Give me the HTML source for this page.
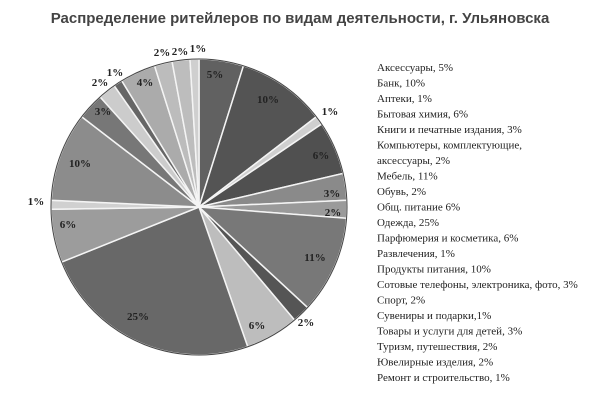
<!DOCTYPE html>
<html><head><meta charset="utf-8"><style>
body{margin:0;background:#fff;width:600px;height:400px;overflow:hidden}
.t{font-family:"Liberation Sans",sans-serif;font-weight:bold;font-size:15px;fill:#444}
.l{font-family:"Liberation Serif",serif;font-size:11px;fill:#222}
.p{font-family:"Liberation Serif",serif;font-size:11px;font-weight:bold;fill:#222;text-anchor:middle;dominant-baseline:central}
</style></head><body>
<svg id="s" width="600" height="400" xmlns="http://www.w3.org/2000/svg">
<text class="t" x="300" y="23" text-anchor="middle">Распределение ритейлеров по видам деятельности, г. Ульяновска</text>
<g id="pie"></g>
<g>
<text class="p" x="215" y="75">5%</text>
<text class="p" x="268" y="100">10%</text>
<text class="p" x="330" y="112">1%</text>
<text class="p" x="321" y="156">6%</text>
<text class="p" x="332" y="194">3%</text>
<text class="p" x="333" y="213">2%</text>
<text class="p" x="315" y="258">11%</text>
<text class="p" x="306" y="323">2%</text>
<text class="p" x="257" y="326">6%</text>
<text class="p" x="138" y="317">25%</text>
<text class="p" x="68" y="225">6%</text>
<text class="p" x="36" y="202">1%</text>
<text class="p" x="80" y="164">10%</text>
<text class="p" x="103" y="112">3%</text>
<text class="p" x="100" y="83">2%</text>
<text class="p" x="115" y="73">1%</text>
<text class="p" x="145" y="83">4%</text>
<text class="p" x="162" y="53">2%</text>
<text class="p" x="180" y="52">2%</text>
<text class="p" x="198" y="49">1%</text>
</g>
<g class="l">
<text x="377" y="71">Аксессуары, 5%</text>
<text x="377" y="86.5">Банк, 10%</text>
<text x="377" y="102">Аптеки, 1%</text>
<text x="377" y="117.5">Бытовая химия, 6%</text>
<text x="377" y="133">Книги и печатные издания, 3%</text>
<text x="377" y="148.5">Компьютеры, комплектующие,</text>
<text x="377" y="164">аксессуары, 2%</text>
<text x="377" y="179.5">Мебель, 11%</text>
<text x="377" y="195">Обувь, 2%</text>
<text x="377" y="210.5">Общ. питание 6%</text>
<text x="377" y="226">Одежда, 25%</text>
<text x="377" y="241.5">Парфюмерия и косметика, 6%</text>
<text x="377" y="257">Развлечения, 1%</text>
<text x="377" y="272.5">Продукты питания, 10%</text>
<text x="377" y="288">Сотовые телефоны, электроника, фото, 3%</text>
<text x="377" y="303.5">Спорт, 2%</text>
<text x="377" y="319">Сувениры и подарки,1%</text>
<text x="377" y="334.5">Товары и услуги для детей, 3%</text>
<text x="377" y="350">Туризм, путешествия, 2%</text>
<text x="377" y="365.5">Ювелирные изделия, 2%</text>
<text x="377" y="381">Ремонт и строительство, 1%</text>
</g>
</svg>
<script>
var v=[5,10,1,6,3,2,11,2,6,25,6,1,10,3,2,1,4,2,2,1];
var c=['#616161','#545454','#cfcfcf','#505050','#8a8a8a','#9a9a9a','#787878','#555555','#bdbdbd','#686868','#9c9c9c','#d0d0d0','#8c8c8c','#777777','#cccccc','#666666','#ababab','#bcbcbc','#bdbdbd','#cfcfcf'];
var tot=v.reduce(function(a,b){return a+b},0),cx=199,cy=207,r=148,a=0,g=document.getElementById('pie'),h='';
for(var i=0;i<v.length;i++){var a2=a+v[i]/tot*2*Math.PI;
var x1=cx+r*Math.sin(a),y1=cy-r*Math.cos(a),x2=cx+r*Math.sin(a2),y2=cy-r*Math.cos(a2);
h+='<path d="M'+cx+','+cy+'L'+x1+','+y1+'A'+r+','+r+' 0 '+(a2-a>Math.PI?1:0)+' 1 '+x2+','+y2+'Z" fill="'+c[i]+'" stroke="#f4f4f4" stroke-width="1.5"/>';a=a2;}
h+='<circle cx="'+cx+'" cy="'+cy+'" r="'+r+'" fill="none" stroke="#444" stroke-width="1"/>';
g.innerHTML=h;
</script>
</body></html>
